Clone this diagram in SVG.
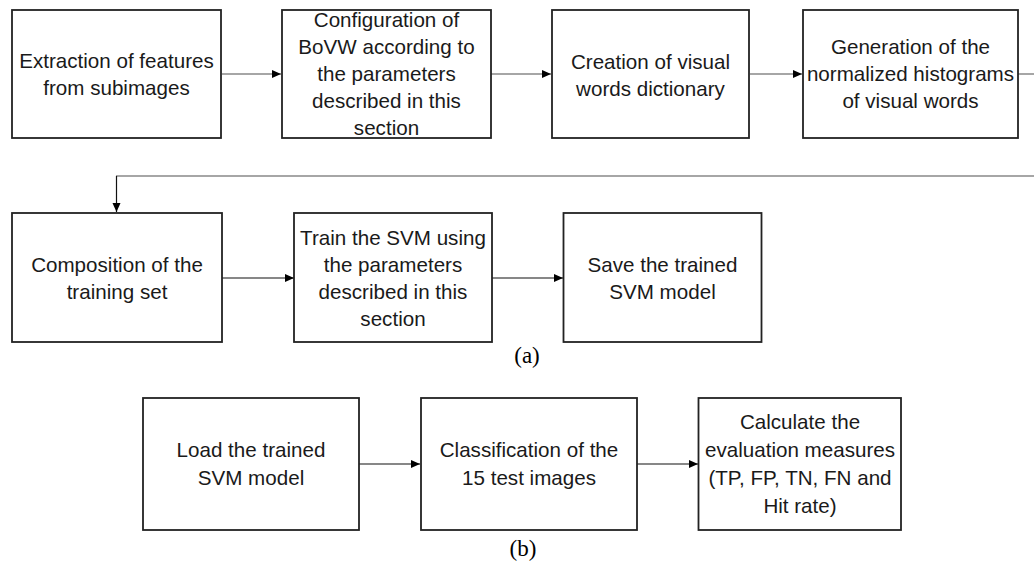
<svg xmlns="http://www.w3.org/2000/svg" width="1034" height="562" viewBox="0 0 1034 562">
<defs>
<marker id="ah" markerWidth="10" markerHeight="10" refX="9" refY="5" orient="auto" markerUnits="userSpaceOnUse">
<path d="M0,1 L9,5 L0,9 Z" fill="#000"/>
</marker>
<style>
.box{fill:#fff;stroke:#222;stroke-width:1.8}
.t{font-family:"Liberation Sans",Arial,sans-serif;font-size:20.6px;fill:#1a1a1a;text-anchor:middle}
.cap{font-family:"Liberation Serif","Times New Roman",serif;font-size:23px;fill:#000;text-anchor:middle}
.cg{fill:none;stroke:#888;stroke-width:1.5}
.cb{fill:none;stroke:#111;stroke-width:1.2}
</style>
</defs>
<rect width="1034" height="562" fill="#fff"/>
<g id="connectors">
<line class="cg" x1="222" y1="74" x2="281" y2="74" marker-end="url(#ah)"/>
<line class="cg" x1="491" y1="74" x2="551" y2="74" marker-end="url(#ah)"/>
<line class="cg" x1="750" y1="74" x2="802" y2="74" marker-end="url(#ah)"/>
<line class="cg" x1="1018" y1="74" x2="1034" y2="74"/>
<line class="cg" x1="1034" y1="176" x2="116" y2="176"/>
<line class="cb" x1="116.5" y1="176" x2="116.5" y2="212" marker-end="url(#ah)"/>
<line class="cb" x1="222" y1="278" x2="294" y2="278" marker-end="url(#ah)"/>
<line class="cb" x1="492" y1="278" x2="563" y2="278" marker-end="url(#ah)"/>
<line class="cb" x1="359" y1="464" x2="420" y2="464" marker-end="url(#ah)"/>
<line class="cb" x1="637" y1="464" x2="698" y2="464" marker-end="url(#ah)"/>
</g>
<g id="n1"><rect class="box" x="12" y="10" width="209" height="128"/>
<text class="t" x="116.5" y="68">Extraction of features</text>
<text class="t" x="116.5" y="95">from subimages</text></g>
<g id="n2"><rect class="box" x="282" y="10" width="209" height="128"/>
<text class="t" x="386.5" y="27">Configuration of</text>
<text class="t" x="386.5" y="54">BoVW according to</text>
<text class="t" x="386.5" y="81">the parameters</text>
<text class="t" x="386.5" y="108">described in this</text>
<text class="t" x="386.5" y="135">section</text></g>
<g id="n3"><rect class="box" x="552" y="10" width="197" height="128"/>
<text class="t" x="650.5" y="69">Creation of visual</text>
<text class="t" x="650.5" y="96">words dictionary</text></g>
<g id="n4"><rect class="box" x="803" y="10" width="215" height="128"/>
<text class="t" x="910.5" y="54">Generation of the</text>
<text class="t" x="910.5" y="81">normalized histograms</text>
<text class="t" x="910.5" y="108">of visual words</text></g>
<g id="n5"><rect class="box" x="12" y="213" width="210" height="129"/>
<text class="t" x="117" y="272">Composition of the</text>
<text class="t" x="117" y="299">training set</text></g>
<g id="n6"><rect class="box" x="294" y="213" width="198" height="129"/>
<text class="t" x="393" y="245">Train the SVM using</text>
<text class="t" x="393" y="272">the parameters</text>
<text class="t" x="393" y="299">described in this</text>
<text class="t" x="393" y="326">section</text></g>
<g id="n7"><rect class="box" x="563.5" y="213" width="198" height="129"/>
<text class="t" x="662.5" y="272">Save the trained</text>
<text class="t" x="662.5" y="299">SVM model</text></g>
<text class="cap" x="527" y="363">(a)</text>
<g id="n8"><rect class="box" x="143" y="398" width="216" height="132"/>
<text class="t" x="251" y="457">Load the trained</text>
<text class="t" x="251" y="485">SVM model</text></g>
<g id="n9"><rect class="box" x="421" y="398" width="216" height="132"/>
<text class="t" x="529" y="457">Classification of the</text>
<text class="t" x="529" y="485">15 test images</text></g>
<g id="n10"><rect class="box" x="698.5" y="398" width="202.5" height="132"/>
<text class="t" x="800" y="429">Calculate the</text>
<text class="t" x="800" y="457">evaluation measures</text>
<text class="t" x="800" y="485">(TP, FP, TN, FN and</text>
<text class="t" x="800" y="513">Hit rate)</text></g>
<text class="cap" x="523" y="556">(b)</text>
</svg>
